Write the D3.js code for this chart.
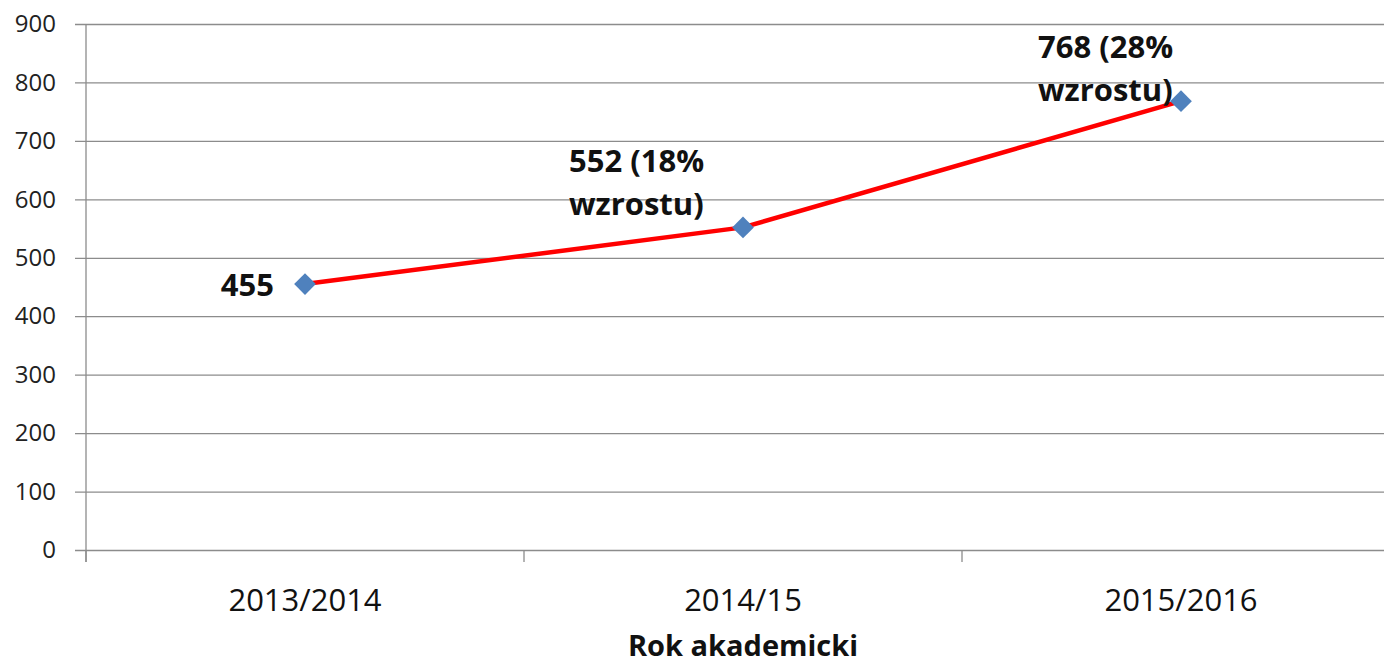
<!DOCTYPE html>
<html>
<head>
<meta charset="utf-8">
<script src="https://cdn.jsdelivr.net/npm/d3@7"></script>
<style>
  body { margin: 0; background: #fff; }
  svg { display: block; font-family: "Open Sans", sans-serif; }
</style>
</head>
<body>
<div id="chart"></div>
<script>
const categories = ["2013/2014", "2014/15", "2015/2016"];
const values = [455, 552, 768];
const labelLines = [["455"], ["552 (18%", "wzrostu)"], ["768 (28%", "wzrostu)"]];
const yTicks = [0, 100, 200, 300, 400, 500, 600, 700, 800, 900];
const xTitle = "Rok akademicki";

// label placement relative to the point (dx, dy of first baseline, anchor)
const labelPos = [
  { dx: -31, dy: 12, anchor: "end" },
  { dx: -174, dy: -55, anchor: "start" },
  { dx: -143, dy: -43, anchor: "start" }
];

const width = 1384, height = 664;
const margin = { top: 24, right: -16, bottom: 114, left: 86 };
const font = "'Open Sans', sans-serif";

const svg = d3.select("#chart").append("svg")
  .attr("width", width)
  .attr("height", height);

const x = d3.scaleBand()
  .domain(categories)
  .range([margin.left, width - margin.right]);

const y = d3.scaleLinear()
  .domain([0, 900])
  .range([height - margin.bottom, margin.top]);

// gridlines + y axis
const yAxis = d3.axisLeft(y)
  .tickValues(yTicks)
  .tickSize(-(width - margin.right - margin.left))
  .tickSizeOuter(0)
  .tickPadding(30);

const gy = svg.append("g")
  .attr("transform", `translate(${margin.left},0)`)
  .call(yAxis)
  .attr("font-family", font);
gy.select(".domain").remove();
gy.selectAll(".tick line")
  .attr("x1", -11)
  .attr("stroke", "#8c8c8c")
  .attr("stroke-width", 1.3);
gy.selectAll(".tick text")
  .attr("fill", "#222")
  .style("font-size", "24px");

svg.append("line")
  .attr("x1", margin.left).attr("x2", margin.left)
  .attr("y1", y(900)).attr("y2", y(0) + 12)
  .attr("stroke", "#8c8c8c")
  .attr("stroke-width", 1.3);

// x axis
const gx = svg.append("g")
  .attr("transform", `translate(0,${y(0)})`)
  .call(d3.axisBottom(x).tickSize(0).tickPadding(39))
  .attr("font-family", font);
gx.select(".domain").remove();
gx.selectAll(".tick text")
  .attr("fill", "#111")
  .style("font-size", "31px");

// category separator ticks
const bounds = categories.map(c => x(c)).concat([x(categories[categories.length - 1]) + x.bandwidth()]);
svg.append("g").selectAll("line")
  .data(bounds)
  .join("line")
  .attr("x1", d => d).attr("x2", d => d)
  .attr("y1", y(0)).attr("y2", y(0) + 12)
  .attr("stroke", "#8c8c8c")
  .attr("stroke-width", 1.3);

svg.append("text")
  .attr("x", x(categories[1]) + x.bandwidth() / 2)
  .attr("y", 656)
  .attr("text-anchor", "middle")
  .style("font-size", "29px")
  .style("font-weight", "bold")
  .attr("fill", "#111")
  .text(xTitle);

const pts = categories.map((c, i) => ({ cx: x(c) + x.bandwidth() / 2, cy: y(values[i]), i }));

svg.append("path")
  .datum(pts)
  .attr("fill", "none")
  .attr("stroke", "#ff0000")
  .attr("stroke-width", 4.5)
  .attr("stroke-linejoin", "round")
  .attr("d", d3.line().x(d => d.cx).y(d => d.cy));

svg.append("g").selectAll("path")
  .data(pts)
  .join("path")
  .attr("transform", d => `translate(${d.cx},${d.cy})`)
  .attr("d", d3.symbol(d3.symbolDiamond2, 300))
  .attr("fill", "#4f81bd");

const labels = svg.append("g").selectAll("text")
  .data(pts)
  .join("text")
  .attr("x", d => d.cx + labelPos[d.i].dx)
  .attr("y", d => d.cy + labelPos[d.i].dy)
  .attr("text-anchor", d => labelPos[d.i].anchor)
  .style("font-size", "31px")
  .style("font-weight", "bold")
  .attr("fill", "#111");

labels.selectAll("tspan")
  .data(d => labelLines[d.i].map((t, k) => ({ t, k, x: d.cx + labelPos[d.i].dx })))
  .join("tspan")
  .attr("x", d => d.x)
  .attr("dy", d => d.k === 0 ? 0 : 43)
  .text(d => d.t);
</script>
</body>
</html>
